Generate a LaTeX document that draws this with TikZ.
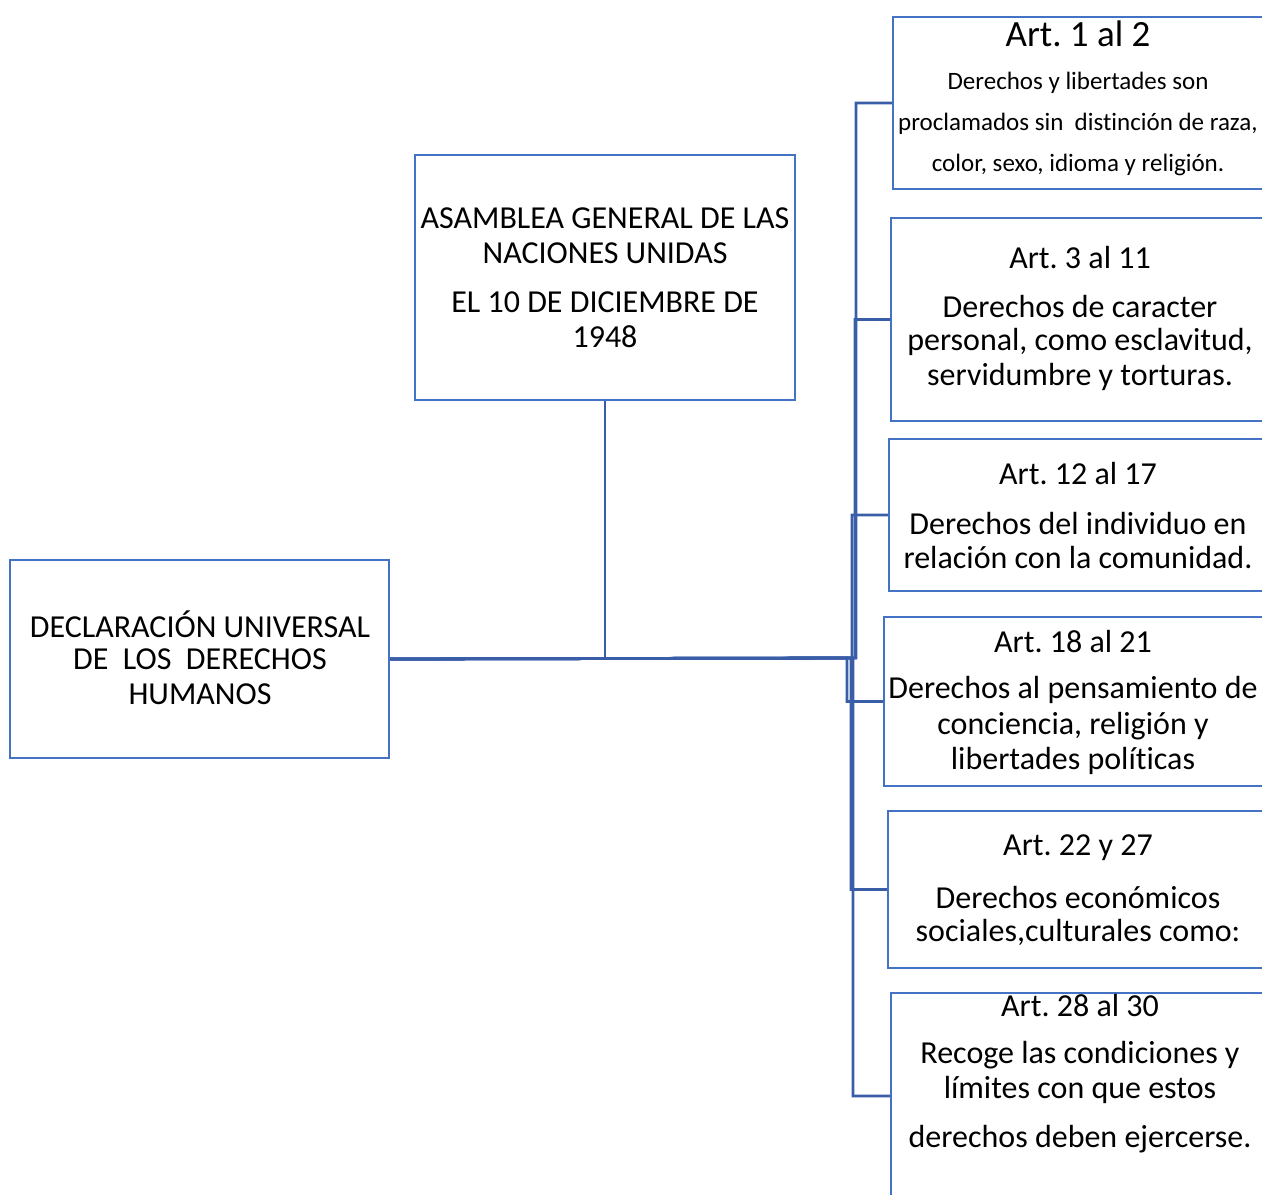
\documentclass[tikz,border=0pt]{standalone}
\usepackage{fontspec}
\setmainfont[Ligatures=NoCommon]{Carlito}
\frenchspacing
\definecolor{boxblue}{HTML}{4472C4}
\definecolor{linkblue}{HTML}{3A5DA8}
\begin{document}
\begin{tikzpicture}[x=1pt,y=-1pt,
  box/.style={draw=boxblue,line width=2pt,fill=white,rectangle,inner sep=0pt},
  conn/.style={draw=linkblue,line width=2.8pt},
  txt/.style={inner sep=0pt,anchor=center,font=\fontsize{32}{34}\selectfont},
  small/.style={inner sep=0pt,anchor=center,font=\fontsize{25}{27}\selectfont},
  big/.style={inner sep=0pt,anchor=center,font=\fontsize{37}{39}\selectfont}]
\useasboundingbox (0,0) rectangle (1262,1195);
% boxes
\node[box,minimum width=379pt,minimum height=198pt] (L) at (199.5,659) {};
\node[box,minimum width=380pt,minimum height=245pt] (T) at (605,277.5) {};
\node[box,minimum width=400pt,minimum height=172pt] (b1) at (1093,103) {};
\node[box,minimum width=400pt,minimum height=203pt] (b2) at (1091,319.5) {};
\node[box,minimum width=400pt,minimum height=152pt] (b3) at (1089,515) {};
\node[box,minimum width=400pt,minimum height=169pt] (b4) at (1084,701.5) {};
\node[box,minimum width=400pt,minimum height=157pt] (b5) at (1088,889.5) {};
\node[box,minimum width=400pt,minimum height=206pt] (b6) at (1091,1096) {};
% junction points
\coordinate (j1) at (856,658);
\coordinate (j2) at (855,658);
\coordinate (j3) at (852,658);
\coordinate (j4) at (847,658);
\coordinate (j5) at (851,658);
\coordinate (j6) at (853,658);
% connectors
\draw[conn] (T.south) -- (T.south |- L.east);
\draw[conn] (L.east) -- (j1) |- (b1.west);
\draw[conn] (L.east) -- (j2) |- (b2.west);
\draw[conn] (L.east) -- (j3) |- (b3.west);
\draw[conn] (L.east) -- (j4) |- (b4.west);
\draw[conn] (L.east) -- (j5) |- (b5.west);
\draw[conn] (L.east) -- (j6) |- (b6.west);
% texts
\node[txt] (t1) at (200,624) {DECLARACIÓN UNIVERSAL};
\node[txt] (t2) at (200,659) {DE\ \ LOS\ \ DERECHOS};
\node[txt] (t3) at (200,694) {HUMANOS};
\node[txt] (a1) at (605,218) {ASAMBLEA GENERAL DE LAS};
\node[txt] (a2) at (605,253) {NACIONES UNIDAS};
\node[txt] (a3) at (605,302) {EL 10 DE DICIEMBRE DE};
\node[txt] (a4) at (605,337) {1948};
\node[big] (h1) at (1078,34) {Art. 1 al 2};
\node[small] (c1) at (1078,83) {Derechos y libertades son};
\node[small] (c2) at (1078,124) {proclamados sin\ \ distinción de raza,};
\node[small] (c3) at (1078,165) {color, sexo, idioma y religión.};
\node[txt] (h2) at (1080,258) {Art. 3 al 11};
\node[txt] (d1) at (1080,306) {Derechos de caracter};
\node[txt] (d2) at (1080,342) {personal, como esclavitud,};
\node[txt] (d3) at (1080,377) {servidumbre y torturas.};
\node[txt] (h3) at (1078,474) {Art. 12 al 17};
\node[txt] (e1) at (1078,523) {Derechos del individuo en};
\node[txt] (e2) at (1078,558) {relación con la comunidad.};
\node[txt] (h4) at (1073,642) {Art. 18 al 21};
\node[txt] (f1) at (1073,690) {Derechos al pensamiento de};
\node[txt] (f2) at (1073,726) {conciencia, religión y};
\node[txt] (f3) at (1073,761) {libertades políticas};
\node[txt] (h5) at (1078,848) {Art. 22 y 27};
\node[txt] (g1) at (1078,897) {Derechos económicos};
\node[txt] (g2) at (1078,932) {sociales,culturales como:};
\node[txt] (h6) at (1080,1006) {Art. 28 al 30};
\node[txt] (k1) at (1080,1055) {Recoge las condiciones y};
\node[txt] (k2) at (1080,1090) {límites con que estos};
\node[txt] (k3) at (1080,1139) {derechos deben ejercerse.};
\end{tikzpicture}
\end{document}
